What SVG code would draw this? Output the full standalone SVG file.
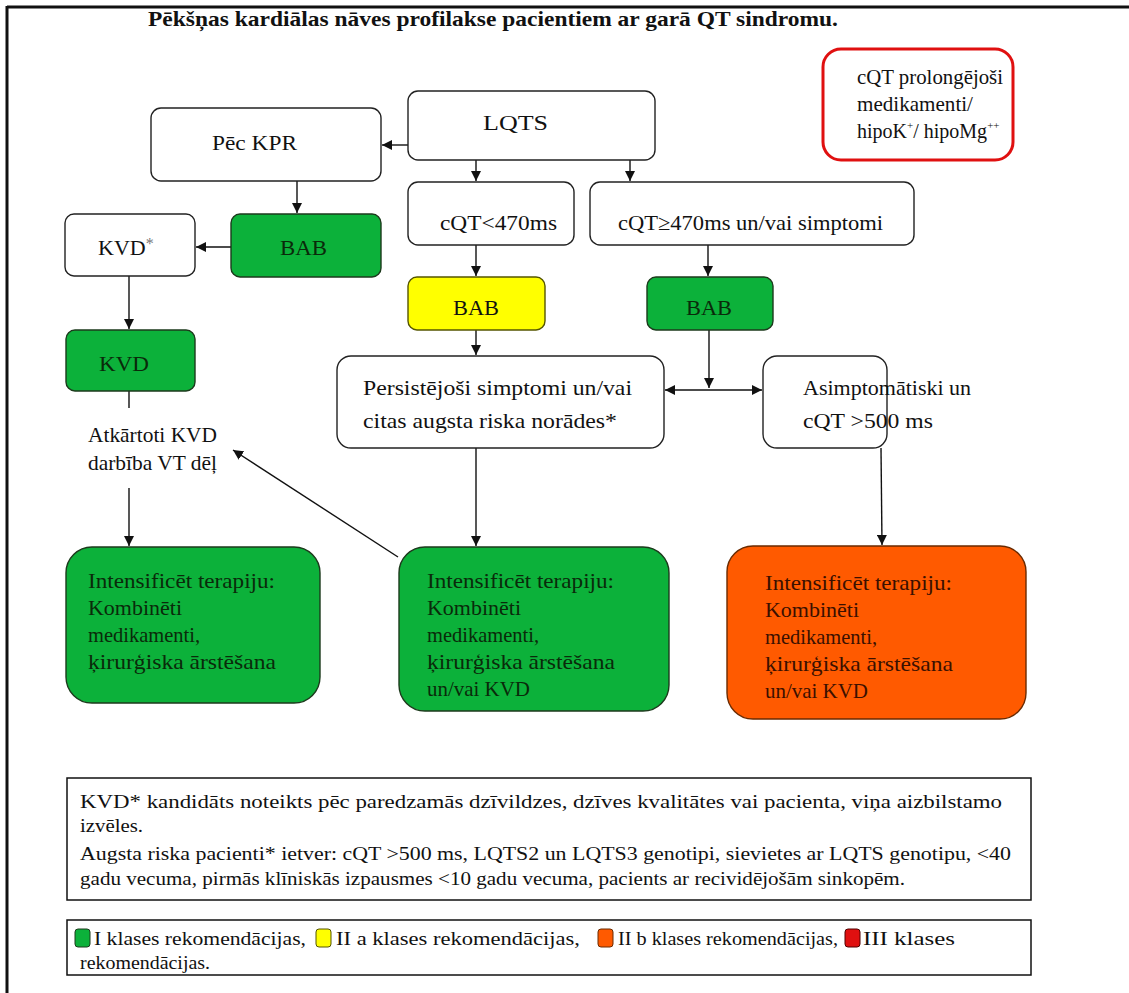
<svg xmlns="http://www.w3.org/2000/svg" width="1129" height="993" viewBox="0 0 1129 993" font-family="'Liberation Serif', 'DejaVu Serif', serif">
<defs>
<style>
text{font-family:'Liberation Serif','DejaVu Serif',serif;fill:#111;}
.t{font-size:22px;}
.n{font-size:19px;}
.box{fill:#fff;stroke:#222;stroke-width:1.4;}
.g{fill:#0cb13a;stroke:#1c3a1c;stroke-width:1.4;}
.y{fill:#ffff00;stroke:#555500;stroke-width:1.4;}
.o{fill:#ff5a00;stroke:#6a2a00;stroke-width:1.4;}
.c line{stroke:#111;stroke-width:1.4;fill:none;}
.gt{fill:#0a2a0a;}
.ot{fill:#3a1000;}
</style>
<marker id="ah" viewBox="0 0 10 10" refX="10" refY="5" markerWidth="10" markerHeight="10" markerUnits="userSpaceOnUse" orient="auto-start-reverse">
<path d="M0,0 L10,5 L0,10 z" fill="#111"/>
</marker>
</defs>
<rect width="1129" height="993" fill="#fff"/>
<g id="frame">
<line x1="7" y1="7" x2="1129" y2="7" stroke="#111" stroke-width="3"/>
<line x1="7" y1="6" x2="7" y2="993" stroke="#111" stroke-width="3"/>
</g>
<text x="148" y="26" font-size="21" font-weight="bold" textLength="690" lengthAdjust="spacingAndGlyphs">Pēkšņas kardiālas nāves profilakse pacientiem ar garā QT sindromu.</text>

<g id="note-red">
<rect x="823" y="49" width="190" height="111" rx="18" fill="#fff" stroke="#e01010" stroke-width="3"/>
<text x="857" y="84" font-size="21" textLength="146" lengthAdjust="spacingAndGlyphs">cQT prolongējoši</text>
<text x="857" y="111" font-size="21" textLength="116" lengthAdjust="spacingAndGlyphs">medikamenti/</text>
<text x="857" y="138" font-size="20">hipoK<tspan font-size="11" dy="-9">+</tspan><tspan dy="9">/ hipoMg</tspan><tspan font-size="11" dy="-9">++</tspan></text>
</g>

<g class="c" id="connectors">
<line x1="408" y1="145" x2="382" y2="145" marker-end="url(#ah)"/>
<line x1="476" y1="160" x2="476" y2="181" marker-end="url(#ah)"/>
<line x1="630" y1="160" x2="630" y2="181" marker-end="url(#ah)"/>
<line x1="297" y1="181" x2="297" y2="213" marker-end="url(#ah)"/>
<line x1="231" y1="247" x2="196" y2="247" marker-end="url(#ah)"/>
<line x1="129" y1="276" x2="129" y2="329" marker-end="url(#ah)"/>
<line x1="129" y1="391" x2="129" y2="408"/>
<line x1="129" y1="488" x2="129" y2="546" marker-end="url(#ah)"/>
<line x1="476" y1="245" x2="476" y2="276" marker-end="url(#ah)"/>
<line x1="708" y1="245" x2="708" y2="276" marker-end="url(#ah)"/>
<line x1="476" y1="330" x2="476" y2="355" marker-end="url(#ah)"/>
<line x1="709" y1="330" x2="709" y2="388" marker-end="url(#ah)"/>
<line x1="665" y1="390" x2="762" y2="390" marker-start="url(#ah)" marker-end="url(#ah)"/>
<line x1="476" y1="448" x2="476" y2="546" marker-end="url(#ah)"/>
<line x1="398" y1="557" x2="233" y2="450" marker-end="url(#ah)"/>
<line x1="881" y1="448" x2="882" y2="545" marker-end="url(#ah)"/>
</g>

<g id="lqts">
<rect class="box" x="408" y="91" width="247" height="69" rx="10"/>
<text class="t" x="483" y="130" textLength="65" lengthAdjust="spacingAndGlyphs">LQTS</text>
</g>
<g id="pec-kpr">
<rect class="box" x="151" y="108" width="230" height="73" rx="10"/>
<text class="t" x="212" y="150" textLength="85" lengthAdjust="spacingAndGlyphs">Pēc KPR</text>
</g>
<g id="cqt-lt">
<rect class="box" x="408" y="182" width="166" height="63" rx="10"/>
<text class="t" x="440" y="230" textLength="117" lengthAdjust="spacingAndGlyphs">cQT&lt;470ms</text>
</g>
<g id="cqt-ge">
<rect class="box" x="590" y="182" width="324" height="63" rx="10"/>
<text class="t" x="618" y="230" textLength="265" lengthAdjust="spacingAndGlyphs">cQT≥470ms un/vai simptomi</text>
</g>
<g id="bab-left">
<rect class="g" x="231" y="214" width="150" height="63" rx="9"/>
<text class="t gt" x="280" y="255" textLength="47" lengthAdjust="spacingAndGlyphs">BAB</text>
</g>
<g id="kvd-star">
<rect class="box" x="65" y="214" width="130" height="62" rx="9"/>
<text class="t" x="98" y="255">KVD<tspan fill="#777" font-size="16" dy="-6">*</tspan></text>
</g>
<g id="kvd">
<rect class="g" x="66" y="330" width="129" height="61" rx="9"/>
<text class="t gt" x="99" y="371" textLength="50" lengthAdjust="spacingAndGlyphs">KVD</text>
</g>
<g id="atkartoti">
<text class="t" x="88" y="442" textLength="129" lengthAdjust="spacingAndGlyphs">Atkārtoti KVD</text>
<text class="t" x="88" y="470" textLength="129" lengthAdjust="spacingAndGlyphs">darbība VT dēļ</text>
</g>
<g id="bab-yellow">
<rect class="y" x="408" y="277" width="137" height="53" rx="9"/>
<text class="t" x="453" y="315" textLength="46" lengthAdjust="spacingAndGlyphs">BAB</text>
</g>
<g id="bab-right">
<rect class="g" x="647" y="277" width="126" height="53" rx="9"/>
<text class="t gt" x="686" y="315" textLength="46" lengthAdjust="spacingAndGlyphs">BAB</text>
</g>
<g id="persist">
<rect class="box" x="337" y="356" width="327" height="92" rx="14"/>
<text class="t" x="363" y="395" textLength="269" lengthAdjust="spacingAndGlyphs">Persistējoši simptomi un/vai</text>
<text class="t" x="363" y="428" textLength="254" lengthAdjust="spacingAndGlyphs">citas augsta riska norādes*</text>
</g>
<g id="asimpt">
<rect class="box" x="763" y="356" width="124" height="92" rx="14"/>
<text class="t" x="803" y="395">Asimptomātiski un</text>
<text class="t" x="803" y="428" textLength="130" lengthAdjust="spacingAndGlyphs">cQT &gt;500 ms</text>
</g>
<g id="int-left">
<rect class="g" x="66" y="547" width="254" height="156" rx="26"/>
<text class="t gt" x="88" y="588" textLength="187" lengthAdjust="spacingAndGlyphs">Intensificēt terapiju:</text>
<text class="t gt" x="88" y="615" textLength="94" lengthAdjust="spacingAndGlyphs">Kombinēti</text>
<text class="t gt" x="88" y="642" textLength="112" lengthAdjust="spacingAndGlyphs">medikamenti,</text>
<text class="t gt" x="88" y="669" textLength="188" lengthAdjust="spacingAndGlyphs">ķirurģiska ārstēšana</text>
</g>
<g id="int-mid">
<rect class="g" x="399" y="547" width="270" height="164" rx="26"/>
<text class="t gt" x="427" y="588" textLength="187" lengthAdjust="spacingAndGlyphs">Intensificēt terapiju:</text>
<text class="t gt" x="427" y="615" textLength="94" lengthAdjust="spacingAndGlyphs">Kombinēti</text>
<text class="t gt" x="427" y="642" textLength="112" lengthAdjust="spacingAndGlyphs">medikamenti,</text>
<text class="t gt" x="427" y="669" textLength="188" lengthAdjust="spacingAndGlyphs">ķirurģiska ārstēšana</text>
<text class="t gt" x="427" y="696" textLength="103" lengthAdjust="spacingAndGlyphs">un/vai KVD</text>
</g>
<g id="int-right">
<rect class="o" x="727" y="546" width="299" height="173" rx="26"/>
<text class="t ot" x="765" y="590" textLength="187" lengthAdjust="spacingAndGlyphs">Intensificēt terapiju:</text>
<text class="t ot" x="765" y="617" textLength="94" lengthAdjust="spacingAndGlyphs">Kombinēti</text>
<text class="t ot" x="765" y="644" textLength="112" lengthAdjust="spacingAndGlyphs">medikamenti,</text>
<text class="t ot" x="765" y="671" textLength="188" lengthAdjust="spacingAndGlyphs">ķirurģiska ārstēšana</text>
<text class="t ot" x="765" y="698" textLength="103" lengthAdjust="spacingAndGlyphs">un/vai KVD</text>
</g>

<g id="notes">
<rect x="67" y="778" width="964" height="122" fill="#fff" stroke="#111" stroke-width="1.5"/>
<text class="n" x="80" y="808" textLength="922" lengthAdjust="spacingAndGlyphs">KVD* kandidāts noteikts pēc paredzamās dzīvildzes, dzīves kvalitātes vai pacienta, viņa aizbilstamo</text>
<text class="n" x="80" y="832" textLength="63" lengthAdjust="spacingAndGlyphs">izvēles.</text>
<text class="n" x="80" y="860" textLength="931" lengthAdjust="spacingAndGlyphs">Augsta riska pacienti* ietver: cQT &gt;500 ms, LQTS2 un LQTS3 genotipi, sievietes ar LQTS genotipu, &lt;40</text>
<text class="n" x="80" y="885" textLength="825" lengthAdjust="spacingAndGlyphs">gadu vecuma, pirmās klīniskās izpausmes &lt;10 gadu vecuma, pacients ar recividējošām sinkopēm.</text>
</g>

<g id="legend">
<rect x="67" y="920" width="964" height="55" fill="#fff" stroke="#111" stroke-width="1.5"/>
<rect x="75" y="929" width="15" height="18" rx="3" fill="#0cb13a" stroke="#1c3a1c"/>
<text class="n" x="94" y="945" textLength="212" lengthAdjust="spacingAndGlyphs">I klases rekomendācijas,</text>
<rect x="316" y="929" width="15" height="18" rx="3" fill="#ffff00" stroke="#555500"/>
<text class="n" x="336" y="945" textLength="244" lengthAdjust="spacingAndGlyphs">II a klases rekomendācijas,</text>
<rect x="598" y="929" width="15" height="18" rx="3" fill="#ff5a00" stroke="#6a2a00"/>
<text class="n" x="618" y="945" textLength="220" lengthAdjust="spacingAndGlyphs">II b klases rekomendācijas,</text>
<rect x="845" y="929" width="15" height="18" rx="3" fill="#e01010" stroke="#500000"/>
<text class="n" x="863" y="945" textLength="92" lengthAdjust="spacingAndGlyphs">III klases</text>
<text class="n" x="80" y="969" textLength="130" lengthAdjust="spacingAndGlyphs">rekomendācijas.</text>
</g>
</svg>
